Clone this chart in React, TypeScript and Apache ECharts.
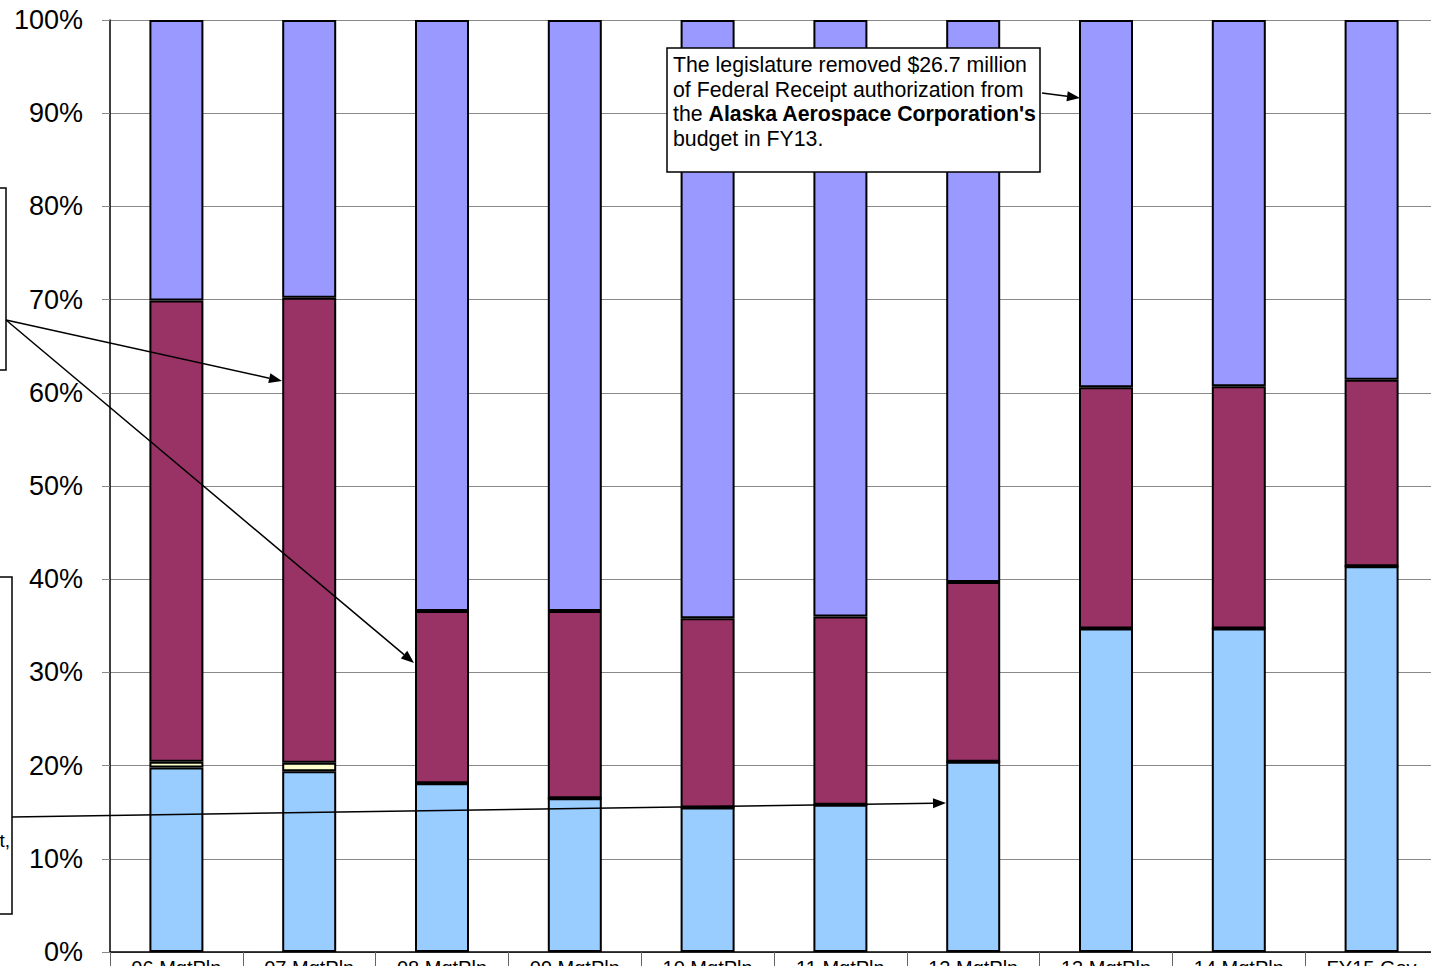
import React, { useEffect, useRef } from "react";
import * as echarts from "echarts";

const categories = ["06 MgtPln", "07 MgtPln", "08 MgtPln", "09 MgtPln", "10 MgtPln", "11 MgtPln", "12 MgtPln", "13 MgtPln", "14 MgtPln", "FY15 Gov"];
const unrestrictedGF = [19.8, 19.4, 18.1, 16.5, 15.5, 15.8, 20.4, 34.7, 34.7, 41.4];
const smallFunds = [0.6, 0.9, 0, 0, 0, 0, 0, 0, 0, 0];
const otherFunds = [49.5, 49.9, 18.5, 20.1, 20.3, 20.2, 19.3, 25.9, 26.0, 20.0];
const federalFunds = [30.1, 29.8, 63.4, 63.4, 64.2, 64.0, 60.3, 39.4, 39.3, 38.6];
const yTicks = [0, 10, 20, 30, 40, 50, 60, 70, 80, 90, 100];

const FONT = "'Liberation Sans', Arial, sans-serif";

function arrow(x1: number, y1: number, x2: number, y2: number) {
  const ang = Math.atan2(y2 - y1, x2 - x1);
  const len = 13;
  const half = 5;
  const bx = x2 - len * Math.cos(ang);
  const by = y2 - len * Math.sin(ang);
  const px = -Math.sin(ang) * half;
  const py = Math.cos(ang) * half;
  return [
    { type: "line", silent: true, shape: { x1, y1, x2: bx, y2: by }, style: { stroke: "#000", lineWidth: 1.5 }, z: 100 },
    {
      type: "polygon",
      silent: true,
      shape: { points: [[x2, y2], [bx + px, by + py], [bx - px, by - py]] },
      style: { fill: "#000" },
      z: 100,
    },
  ];
}

export default function App() {
  const ref = useRef<HTMLDivElement>(null);
  useEffect(() => {
    if (!ref.current) return;
    const chart = echarts.init(ref.current, null, { renderer: "svg" });
    const mk = (name: string, data: number[], color: string) => ({
      name,
      type: "bar",
      stack: "total",
      data,
      barWidth: 54,
      itemStyle: { color, borderColor: "#000", borderWidth: 2 },
    });
    chart.setOption({
      animation: false,
      backgroundColor: "#fff",
      textStyle: { fontFamily: FONT },
      grid: { left: 110, top: 20, width: 1328, height: 932 },
      xAxis: {
        type: "category",
        data: categories,
        axisLine: { show: true, lineStyle: { color: "#000", width: 1.5 } },
        axisTick: { show: true, interval: 0, length: 22, lineStyle: { color: "#666", width: 1 } },
        axisLabel: { interval: 0, color: "#000", fontSize: 20, fontFamily: FONT, margin: 6 },
        splitLine: { show: false },
      },
      yAxis: {
        type: "value",
        min: yTicks[0],
        max: yTicks[yTicks.length - 1],
        interval: 10,
        axisLine: { show: true, lineStyle: { color: "#000", width: 1.5 } },
        axisTick: { show: true, length: 8, lineStyle: { color: "#888" } },
        axisLabel: { color: "#000", fontSize: 27, fontFamily: FONT, margin: 27, formatter: "{value}%" },
        splitLine: { show: true, lineStyle: { color: "#888", width: 1 } },
      },
      series: [
        mk("Unrestricted General Funds", unrestrictedGF, "#99CCFF"),
        mk("Designated General Funds", smallFunds, "#FFFFCC"),
        mk("Other Funds", otherFunds, "#993366"),
        mk("Federal Funds", federalFunds, "#9999FF"),
      ],
      graphic: [
        {
          type: "rect",
          shape: { x: 667, y: 48, width: 373, height: 124 },
          style: { fill: "#fff", stroke: "#000", lineWidth: 1.5 },
          z: 100,
        },
        {
          type: "text",
          x: 673,
          y: 53,
          z: 101,
          style: {
            text: "The legislature removed $26.7 million\nof Federal Receipt authorization from\nthe {b|Alaska Aerospace Corporation's}\nbudget in FY13.",
            fontFamily: FONT,
            fontSize: 21.3,
            lineHeight: 24.5,
            fill: "#000",
            rich: { b: { fontWeight: "bold", fontFamily: FONT, fontSize: 21.3, lineHeight: 24.5 } },
          },
        },
        ...arrow(1042, 93, 1080, 98),
        {
          type: "rect",
          shape: { x: -20, y: 188, width: 26, height: 182 },
          style: { fill: "#fff", stroke: "#000", lineWidth: 1.5 },
          z: 100,
        },
        {
          type: "rect",
          shape: { x: -20, y: 577, width: 32, height: 337 },
          style: { fill: "#fff", stroke: "#000", lineWidth: 1.5 },
          z: 100,
        },
        {
          type: "text",
          x: 10,
          y: 840,
          z: 101,
          style: { text: "t,", align: "right", verticalAlign: "middle", fontFamily: FONT, fontSize: 19, fill: "#000" },
        },
        ...arrow(6, 320, 282, 381),
        ...arrow(6, 320, 414, 663),
        ...arrow(12, 817, 946, 803),
      ],
    });
    return () => chart.dispose();
  }, []);
  return <div ref={ref} style={{ position: "fixed", left: 0, top: 0, width: 1450, height: 990 }} />;
}
